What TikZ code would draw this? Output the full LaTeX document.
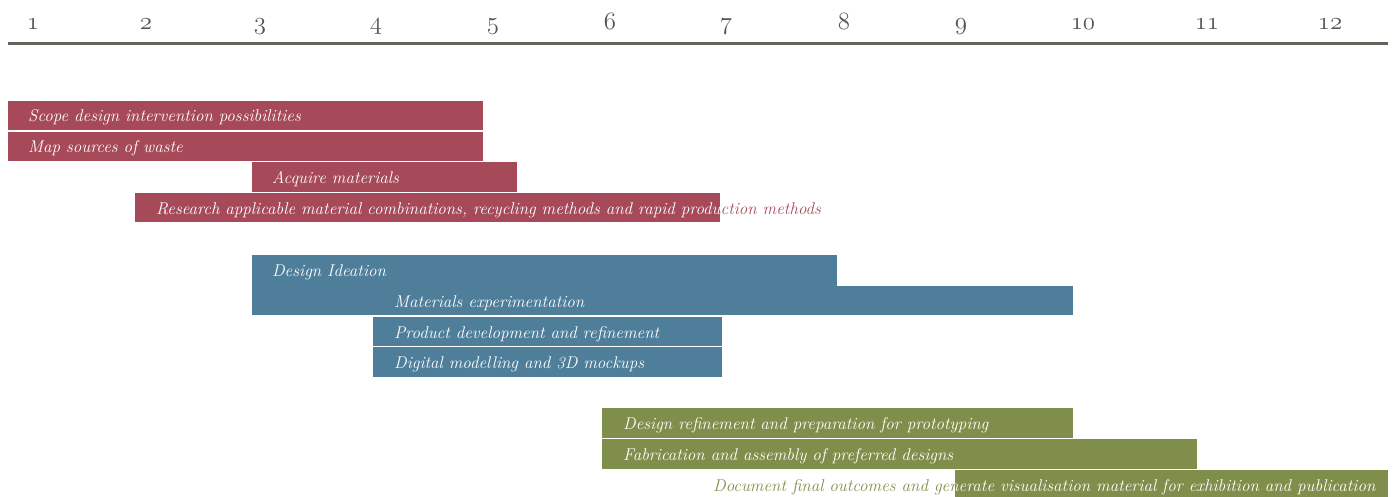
\documentclass[tikz,border=0pt]{standalone}
\definecolor{redbar}{RGB}{166,74,89}
\definecolor{bluebar}{RGB}{78,126,154}
\definecolor{greenbar}{RGB}{127,142,74}
\definecolor{axisgray}{RGB}{100,100,92}
\definecolor{monthgray}{RGB}{84,84,78}
\begin{document}
\begin{tikzpicture}[x=1pt,y=-1pt,
  lbl/.style={anchor=base west, inner sep=0pt, font=\fontsize{17}{20}\selectfont\itshape, text=white},
  month/.style={anchor=base, inner sep=0pt, font=\usefont{OML}{cmm}{m}{it}\fontsize{26}{30}\selectfont, text=monthgray}]
\useasboundingbox (0,0) rectangle (1395,497);

% month axis
\draw[axisgray, line width=3pt] (8,44) -- (1388,44);
\foreach \m/\x in {1/33,2/146,3/260,4/376,5/493,6/610,7/726,8/844,9/961,10/1083,11/1207,12/1330}
  \node[month] (m\m) at (\x,29.5) {\m};

% research phase
\fill[redbar] (8,101) rectangle (483,130);
\node[lbl] (t1) at (28,121.5) {Scope design intervention possibilities};
\fill[redbar] (8,132) rectangle (483,161);
\node[lbl] (t2) at (28,152.5) {Map sources of waste};
\fill[redbar] (252,162) rectangle (517,192);
\node[lbl] (t3) at (272,183.5) {Acquire materials};
\node[lbl, text=redbar] (t4) at (156,214.5) {Research applicable material combinations, recycling methods and rapid production methods};
\begin{scope}
  \clip (135,193) rectangle (720,222);
  \fill[redbar] (135,193) rectangle (720,222);
  \node[lbl] (t4w) at (156,214.5) {Research applicable material combinations, recycling methods and rapid production methods};
\end{scope}

% design phase
\fill[bluebar] (252,255) rectangle (837,286);
\node[lbl] (t5) at (272,276.5) {Design Ideation};
\fill[bluebar] (252,286) rectangle (1073,315);
\node[lbl] (t6) at (394,307.5) {Materials experimentation};
\fill[bluebar] (373,317) rectangle (722,346);
\node[lbl] (t7) at (394,338.5) {Product development and refinement};
\fill[bluebar] (373,347) rectangle (722,377);
\node[lbl] (t8) at (394,368.5) {Digital modelling and 3D mockups};

% production phase
\fill[greenbar] (602,408) rectangle (1073,438);
\node[lbl] (t9) at (623,429.5) {Design refinement and preparation for prototyping};
\fill[greenbar] (602,439) rectangle (1197,469);
\node[lbl] (t10) at (623,460.5) {Fabrication and assembly of preferred designs};
\node[lbl, text=greenbar] (t11) at (713,491.5) {Document final outcomes and generate visualisation material for exhibition and publication};
\begin{scope}
  \clip (955,470) rectangle (1388,497);
  \fill[greenbar] (955,470) rectangle (1388,497);
  \node[lbl] (t11w) at (713,491.5) {Document final outcomes and generate visualisation material for exhibition and publication};
\end{scope}
\end{tikzpicture}
\end{document}
